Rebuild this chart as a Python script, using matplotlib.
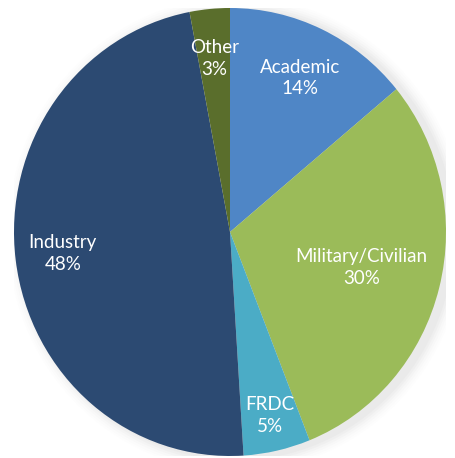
import numpy as np
import matplotlib

matplotlib.use("Agg")
import matplotlib.pyplot as plt
from matplotlib.patches import Ellipse

# data (clockwise from 12 o'clock)
categories = ["Academic", "Military/Civilian", "FRDC", "Industry", "Other"]
shares = [14, 30, 5, 48, 3]

COLORS = ["#4f86c6", "#9bbb59", "#4bacc6", "#2c4a72", "#5a6e2c"]
LABEL_R = [0.76, 0.63, 0.84, 0.78, 0.78]   # radial position of each label

plt.rcParams["font.family"] = ["Lato", "DejaVu Sans"]

fig = plt.figure(figsize=(4.55, 4.58), dpi=100)
# pie is slightly taller than wide in the reference
ax = fig.add_axes([14 / 455, 1 - 456 / 458, 432 / 455, 448 / 458])

# soft shadow around the disc
for i, a in enumerate(np.linspace(0.05, 0.012, 6)):
    ax.add_patch(Ellipse((0.03, -0.01), 2 + 0.02 * (i + 1), 2 + 0.02 * (i + 1),
                         facecolor="#9a9a9a", edgecolor="none", alpha=a, zorder=0))

wedges, _ = ax.pie(shares, colors=COLORS, startangle=90, counterclock=False,
                   radius=1, wedgeprops=dict(linewidth=0))
for w in wedges:
    w.set_zorder(2)

for w, name, pct, r in zip(wedges, categories, shares, LABEL_R):
    mid = np.deg2rad((w.theta1 + w.theta2) / 2)
    ax.text(r * np.cos(mid), r * np.sin(mid), f"{name}\n{pct}%",
            ha="center", va="center", color="white", fontsize=13.5,
            linespacing=1.35, zorder=3)

ax.set_aspect("auto")
ax.set_xlim(-1, 1)
ax.set_ylim(-1, 1)
ax.axis("off")

fig.savefig("out.png", dpi=100, facecolor="white")
